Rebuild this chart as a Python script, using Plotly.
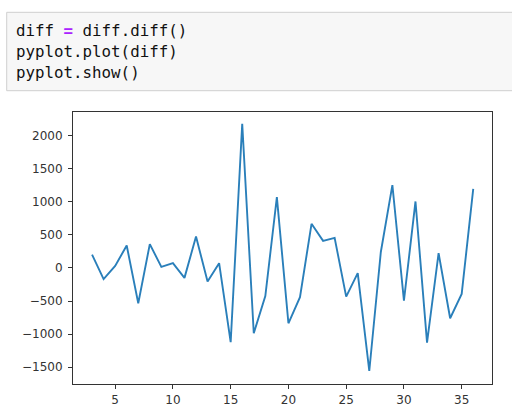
import plotly.graph_objects as go

x_vals = list(range(3, 37))
diff_vals = [200, -170, 30, 337, -534, 358, 15, 71, -151, 473, -207, 71,
             -1122, 2175, -987, -425, 1068, -836, -443, 665, 408, 453, -433,
             -80, -1556, 240, 1249, -494, 1002, -1128, 222, -760, -393, 1193]
code_lines = ['diff <b><span style="color:#AA22FF">=</span></b> diff.diff()',
              'pyplot.plot(diff)',
              'pyplot.show()']
x_ticks = [5, 10, 15, 20, 25, 30, 35]
y_ticks = [-1500, -1000, -500, 0, 500, 1000, 1500, 2000]

W, H = 512, 413
L, R, T, B = 73.0, 492.3, 111.7, 384.3

fig = go.Figure()
fig.add_trace(go.Scatter(x=x_vals, y=diff_vals, mode="lines",
                         line=dict(color="#2a7fba", width=1.9)))

axis_common = dict(showgrid=False, zeroline=False, showline=True, mirror=True,
                   linecolor="#333333", linewidth=1, ticks="outside", ticklen=4,
                   tickcolor="#333333", tickwidth=1,
                   tickfont=dict(family="DejaVu Sans", size=12, color="#333333"),
                   automargin=False)

fig.update_layout(
    width=W, height=H,
    margin=dict(l=0, r=0, t=0, b=0),
    paper_bgcolor="white", plot_bgcolor="white",
    showlegend=False,
    xaxis=dict(domain=[L / W, R / W], range=[1.35, 37.65],
               tickvals=x_ticks, **axis_common),
    yaxis=dict(domain=[(H - B) / H, (H - T) / H], range=[-1757, 2357],
               tickvals=y_ticks, ticklabelstandoff=3, **axis_common),
)

# code cell box
fig.add_shape(type="rect", xref="paper", yref="paper",
              x0=6.7 / W, x1=1.05, y0=1 - 90.7 / H, y1=1 - 12.3 / H,
              fillcolor="#f7f7f7", line=dict(color="#cfcfcf", width=1),
              layer="below")

line_y = [30.7, 51.7, 72.2]
for txt, yy in zip(code_lines, line_y):
    fig.add_annotation(text=txt, xref="paper", yref="paper",
                       x=14 / W, y=1 - yy / H, xanchor="left", yanchor="middle",
                       showarrow=False,
                       font=dict(family="DejaVu Sans Mono", size=15.8, color="#111111"))

fig.write_html("out.html", config={"displayModeBar": False},
               post_script="document.body.style.margin='0';document.body.style.overflow='hidden';")
